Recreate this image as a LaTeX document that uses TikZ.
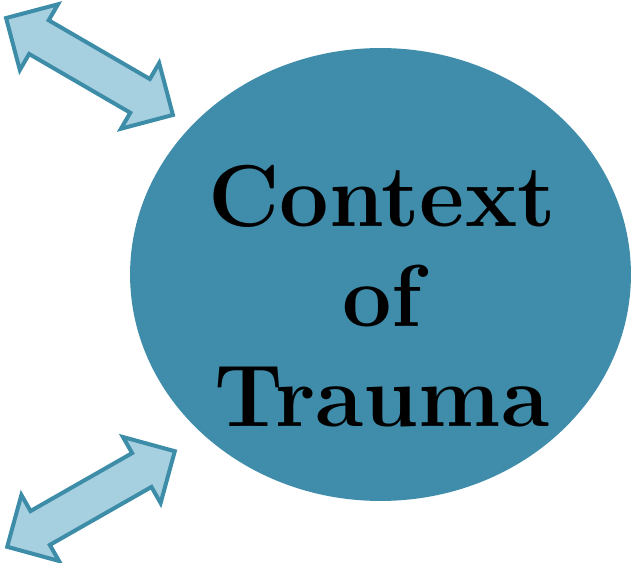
\documentclass[tikz,border=0pt]{standalone}
\usepackage{tikz}
\usetikzlibrary{shapes.geometric,shapes.arrows}

\definecolor{traumateal}{RGB}{63,141,170}
\definecolor{arrowfill}{RGB}{166,207,224}
\definecolor{arrowline}{RGB}{62,141,168}

\begin{document}
\begin{tikzpicture}[x=0.02cm, y=0.02cm, contextcircle/.style={ellipse, fill=traumateal, minimum width=10.02cm, minimum height=9.06cm, inner sep=0pt}, contexttext/.style={align=center, font=\fontsize{50}{57}\selectfont\bfseries, text=black, inner sep=0pt}, linkarrow/.style={double arrow, draw=arrowline, fill=arrowfill, line width=0.08cm, minimum height=3.86cm, inner xsep=0pt, inner ysep=0.35cm, double arrow head extend=0.37cm, double arrow tip angle=90}]
\useasboundingbox (0,0) rectangle (635,-563);

\node[contextcircle] (context) at (380.5,-274.5) {};
\node[contexttext] (contextlabel) at (382,-296) {Context\\of\\Trauma};

\node[linkarrow, rotate=-30.15] (toplink) at (89.5,-66.5) {};
\node[linkarrow, rotate=29.7] (bottomlink) at (91,-499) {};
\end{tikzpicture}
\end{document}
